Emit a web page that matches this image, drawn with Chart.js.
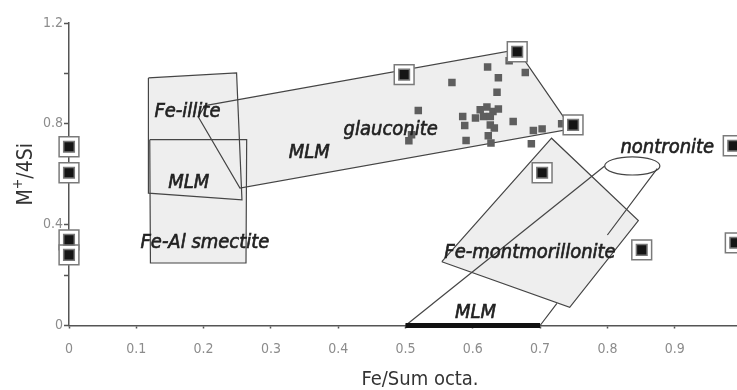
<!DOCTYPE html>
<html>
<head>
<meta charset="utf-8">
<script src="https://cdn.jsdelivr.net/npm/chart.js@4.4.1/dist/chart.umd.min.js"></script>
<style>
  html, body { margin: 0; padding: 0; background: #fff; overflow: hidden; }
  #wrap { position: relative; width: 760px; height: 390px; }
</style>
</head>
<body>
<div id="wrap"><canvas id="chart"></canvas></div>
<script>
// reference samples (framed black squares)
const refX = [0, 0, 0, 0, 0.498, 0.666, 0.749, 0.703, 0.851, 0.987, 0.99];
const refY = [0.709, 0.606, 0.34, 0.28, 0.995, 1.086, 0.796, 0.606, 0.30, 0.713, 0.328];

// glauconite analyses (small grey squares)
const glauX = [0.569, 0.622, 0.654, 0.638, 0.678, 0.636, 0.519, 0.509, 0.505, 0.585,
               0.588, 0.590, 0.611, 0.621, 0.630, 0.616, 0.604, 0.626, 0.638, 0.626,
               0.632, 0.623, 0.627, 0.660, 0.690, 0.703, 0.687, 0.732];
const glauY = [0.964, 1.025, 1.050, 0.983, 1.004, 0.925, 0.853, 0.757, 0.733, 0.829,
               0.793, 0.734, 0.856, 0.867, 0.849, 0.829, 0.823, 0.829, 0.859, 0.795,
               0.783, 0.753, 0.724, 0.809, 0.774, 0.780, 0.721, 0.800];

// compositional fields (polygon vertices)
const feIlliteX = [0.118, 0.249, 0.257, 0.118];
const feIlliteY = [0.982, 1.002, 0.498, 0.525];
const smectiteX = [0.120, 0.264, 0.263, 0.121];
const smectiteY = [0.737, 0.737, 0.248, 0.248];
const glauconiteX = [0.202, 0.666, 0.747, 0.254, 0.192];
const glauconiteY = [0.872, 1.094, 0.780, 0.545, 0.828];
const montX = [0.554, 0.717, 0.846, 0.744];
const montY = [0.253, 0.743, 0.416, 0.072];

// nontronite cone: two generatrices from the Fe/Sum axis to the ellipse
// (the right one is interrupted where it runs behind the Fe-montmorillonite field)
const coneLeftX = [0.5, 0.796];
const coneLeftY = [0, 0.633];
const coneRightX = [0.7, 0.725, null, 0.800, 0.874];
const coneRightY = [0, 0.088, null, 0.359, 0.622];
const nontroniteCentre = [0.837, 0.633];
const nontroniteRadii = [0.041, 0.036];

// MLM segment on the axis
const mlmBarX = [0.5, 0.7];
const mlmBarY = [0, 0];

// field names
const fieldNames = ['Fe-illite', 'MLM', 'Fe-Al smectite', 'MLM', 'glauconite',
                    'nontronite', 'Fe-montmorillonite', 'MLM'];
const fieldNameX = [0.176, 0.178, 0.202, 0.357, 0.478, 0.889, 0.685, 0.604];
const fieldNameY = [0.828, 0.545, 0.307, 0.664, 0.757, 0.684, 0.267, 0.029];

// tick labels
const xTickLabels = ['0', '0.1', '0.2', '0.3', '0.4', '0.5', '0.6', '0.7', '0.8', '0.9'];
const yTickLabels = ['0', '', '0.4', '', '0.8', '', '1.2'];

const pts = (xs, ys) => xs.map((v, i) => ({ x: v, y: ys[i] }));
const closed = (xs, ys) => { const p = pts(xs, ys); p.push(p[0]); return p; };

const FIELD_FILL = '#eeeeee';
const EDGE = '#454545';
const condensed = '"DejaVu Sans Condensed", "DejaVu Sans", sans-serif';

function field(data, order, fill) {
  return {
    data, order,
    showLine: true,
    spanGaps: false,
    fill: fill ? 'shape' : false,
    backgroundColor: FIELD_FILL,
    borderColor: EDGE,
    borderWidth: 1.2,
    pointRadius: 0,
    pointHoverRadius: 0,
    tension: 0
  };
}

const annotations = {
  id: 'annotations',
  afterDatasetsDraw(chart) {
    const { ctx, chartArea, scales: { x, y } } = chart;
    ctx.save();

    // nontronite ellipse
    const cx = x.getPixelForValue(nontroniteCentre[0]);
    const cy = y.getPixelForValue(nontroniteCentre[1]);
    const rx = x.getPixelForValue(nontroniteCentre[0] + nontroniteRadii[0]) - cx;
    const ry = cy - y.getPixelForValue(nontroniteCentre[1] + nontroniteRadii[1]);
    ctx.beginPath();
    ctx.ellipse(cx, cy, rx, ry, 0, 0, Math.PI * 2);
    ctx.strokeStyle = EDGE;
    ctx.lineWidth = 1.2;
    ctx.stroke();

    // field names, slightly emboldened
    ctx.font = 'italic 20px ' + condensed;
    ctx.fillStyle = '#222';
    ctx.strokeStyle = '#222';
    ctx.lineWidth = 0.6;
    ctx.textAlign = 'center';
    ctx.textBaseline = 'alphabetic';
    fieldNames.forEach((t, i) => {
      const px = x.getPixelForValue(fieldNameX[i]);
      const py = y.getPixelForValue(fieldNameY[i]);
      ctx.fillText(t, px, py);
      ctx.strokeText(t, px, py);
    });

    // axis titles
    ctx.fillStyle = '#333';
    ctx.font = '20px ' + condensed;
    ctx.fillText('Fe/Sum octa.', chartArea.left + 351, 385);

    ctx.translate(32, (chartArea.top + chartArea.bottom) / 2);
    ctx.rotate(-Math.PI / 2);
    const big = '21px ' + condensed, small = '14px ' + condensed;
    ctx.font = big;
    const wM = ctx.measureText('M').width;
    const wRest = ctx.measureText('/4Si').width;
    ctx.font = small;
    const wPlus = ctx.measureText('+').width;
    let px = -(wM + wPlus + wRest) / 2;
    ctx.textAlign = 'left';
    ctx.font = big;
    ctx.fillText('M', px, 0);
    px += wM;
    ctx.font = small;
    ctx.fillText('+', px, -10);
    px += wPlus;
    ctx.font = big;
    ctx.fillText('/4Si', px, 0);

    ctx.restore();
  }
};

new Chart(document.getElementById('chart'), {
  type: 'scatter',
  data: {
    datasets: [
      { data: pts(refX, refY), order: 0, pointStyle: 'rect', pointRadius: 7.5,
        backgroundColor: '#151515', borderColor: '#777', borderWidth: 1.5, clip: false },
      { data: pts(refX, refY), order: 1, pointStyle: 'rect', pointRadius: 14,
        backgroundColor: '#fff', borderColor: '#7a7a7a', borderWidth: 1.5, clip: false },
      { data: pts(glauX, glauY), order: 2, pointStyle: 'rect', pointRadius: 5.3,
        backgroundColor: '#5e5e5e', borderWidth: 0 },
      { data: pts(mlmBarX, mlmBarY), order: 3, showLine: true, borderColor: '#111',
        borderWidth: 5, pointRadius: 0, clip: false },
      field(pts(coneLeftX, coneLeftY), 4, false),
      field(closed(montX, montY), 5, true),
      field(pts(coneRightX, coneRightY), 6, false),
      field(closed(glauconiteX, glauconiteY), 7, true),
      field(closed(smectiteX, smectiteY), 8, true),
      field(closed(feIlliteX, feIlliteY), 9, true)
    ]
  },
  options: {
    responsive: true,
    maintainAspectRatio: false,
    animation: false,
    events: [],
    layout: { padding: { left: 0, right: 18, top: 23, bottom: 0 } },
    plugins: {
      legend: { display: false },
      tooltip: { enabled: false },
      // all field fills go down first so every outline stays visible
      filler: { drawTime: 'beforeDatasetsDraw' }
    },
    scales: {
      x: {
        type: 'linear', min: 0, max: 1,
        afterFit(s) { s.height = 64.5; },
        border: { color: '#555', width: 1.5 },
        grid: { drawOnChartArea: false, tickLength: 3, color: '#555', tickWidth: 1.5 },
        ticks: {
          stepSize: 0.1, autoSkip: false, maxRotation: 0, padding: 12,
          color: '#8c8c8c', font: { family: condensed, size: 14 },
          callback: (v) => xTickLabels[Math.round(v * 10)] ?? ''
        }
      },
      y: {
        type: 'linear', min: 0, max: 1.2,
        afterFit(s) { s.width = 69; },
        border: { color: '#555', width: 1.5 },
        grid: { drawOnChartArea: false, tickLength: 5, color: '#555', tickWidth: 1.5 },
        ticks: {
          stepSize: 0.2, autoSkip: false, padding: 1,
          color: '#8c8c8c', font: { family: condensed, size: 14 },
          callback: (v) => yTickLabels[Math.round(v * 5)] ?? ''
        }
      }
    }
  },
  plugins: [annotations]
});
</script>
</body>
</html>
